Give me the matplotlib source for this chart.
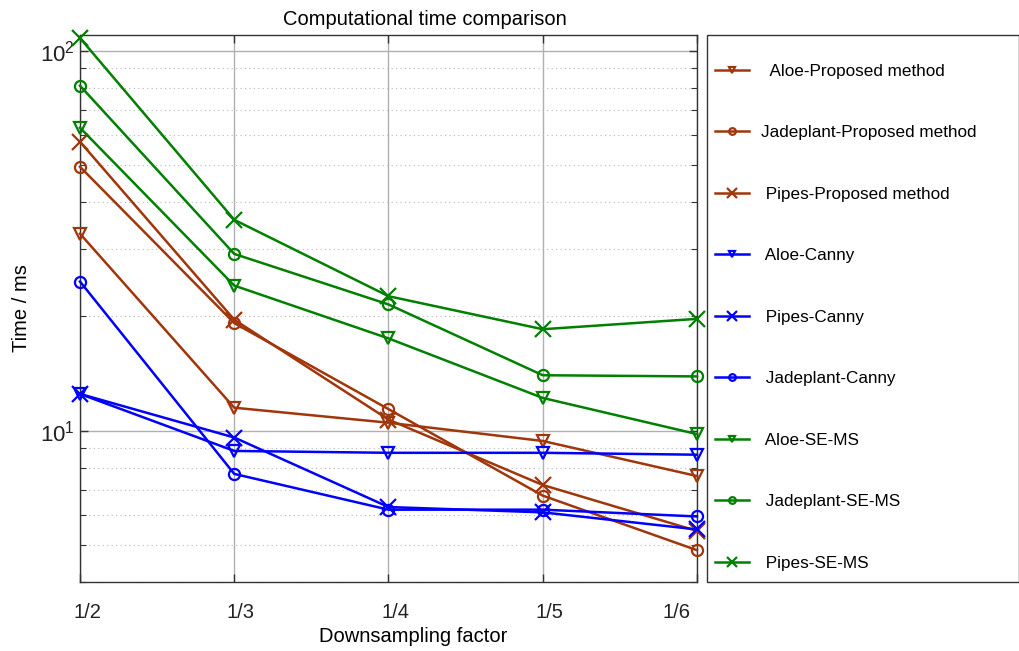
import numpy as np
import matplotlib
matplotlib.use("Agg")
import matplotlib.pyplot as plt
import matplotlib.transforms as mtransforms
from matplotlib.patches import Rectangle
from matplotlib.ticker import LogLocator, NullFormatter

plt.rcParams["font.family"] = ["Liberation Sans", "DejaVu Sans"]
plt.rcParams["mathtext.fontset"] = "custom"
plt.rcParams["mathtext.rm"] = "Liberation Sans"
plt.rcParams["mathtext.it"] = "Liberation Sans:italic"

factors = ["1/2", "1/3", "1/4", "1/5", "1/6"]

# time in ms
aloe_prop = [33.0, 11.5, 10.5, 9.4, 7.6]
jade_prop = [49.5, 19.2, 11.4, 6.75, 4.85]
pipes_prop = [57.6, 19.6, 10.7, 7.2, 5.45]
aloe_canny = [12.5, 8.85, 8.75, 8.75, 8.65]
pipes_canny = [12.5, 9.6, 6.3, 6.1, 5.5]
jade_canny = [24.7, 7.7, 6.2, 6.2, 5.95]
aloe_sems = [62.7, 24.1, 17.5, 12.2, 9.8]
jade_sems = [80.9, 29.2, 21.5, 14.0, 13.9]
pipes_sems = [108.0, 35.9, 22.6, 18.5, 19.7]

brown = "#A0360A"
blue = "#0000FF"
green = "#008000"

series = [
    ("  Aloe-Proposed method", aloe_prop, brown, "v"),
    ("Jadeplant-Proposed method", jade_prop, brown, "o"),
    (" Pipes-Proposed method", pipes_prop, brown, "x"),
    (" Aloe-Canny", aloe_canny, blue, "v"),
    (" Pipes-Canny", pipes_canny, blue, "x"),
    (" Jadeplant-Canny", jade_canny, blue, "o"),
    (" Aloe-SE-MS", aloe_sems, green, "v"),
    (" Jadeplant-SE-MS", jade_sems, green, "o"),
    (" Pipes-SE-MS", pipes_sems, green, "x"),
]

fig = plt.figure(figsize=(10.2, 6.51), dpi=100)
W, H = 1020, 651
ax = fig.add_axes([80 / W, (H - 582) / H, 617 / W, 547 / H])

x = np.arange(len(factors))
handles = []
for label, vals, col, mk in series:
    ms = 11 if mk == "x" else 8
    h, = ax.plot(x, vals, color=col, lw=1.8, marker=mk, ms=ms,
                 mfc="none", mec=col, mew=1.6, label=label, clip_on=False, zorder=3)
    handles.append(h)

ax.set_yscale("log")
ax.set_ylim(4, 110)
ax.set_xlim(0, 4)
ax.set_xticks(x)
ax.set_xticklabels(factors)
ax.yaxis.set_major_locator(LogLocator(base=10))
ax.yaxis.set_minor_locator(LogLocator(base=10, subs=np.arange(2, 10)))
ax.yaxis.set_minor_formatter(NullFormatter())

ax.grid(True, which="major", color="#b0b0b0", lw=1.0, ls="-")
ax.grid(True, which="minor", axis="y", color="#b8b8b8", lw=0.8, ls=(0, (1, 3)))
ax.set_axisbelow(True)

ax.tick_params(which="both", direction="in", top=True, right=True, colors="#333333")
ax.tick_params(which="major", length=6, width=1.0)
ax.tick_params(which="minor", length=4, width=0.8)
ax.tick_params(axis="x", labelsize=14.5, pad=15, labelcolor="#222222")
ax.tick_params(axis="y", labelsize=16, pad=4, labelcolor="#222222")
for s in ax.spines.values():
    s.set_color("#333333")
    s.set_linewidth(1.0)

# x tick labels sit a little off their ticks in the original
shifts = [7, 6, 7, 7, -20]
for lab, dx in zip(ax.get_xticklabels(), shifts):
    lab.set_transform(lab.get_transform() +
                      mtransforms.ScaledTranslation(dx / 100, 0, fig.dpi_scale_trans))

ax.set_title("Computational time comparison", fontsize=14.5, pad=7,
             x=(425 - 80) / 617)
ax.set_xlabel("Downsampling factor", fontsize=14.5)
ax.xaxis.set_label_coords((413 - 80) / 617, -(45 / 547))
ax.set_ylabel("Time / ms", fontsize=14.5, labelpad=6)

# legend box outside the axes
fig.patches.append(Rectangle((707 / W, 1 - 582 / H), 312 / W, 547 / H,
                             transform=fig.transFigure, fill=False,
                             ec="#333333", lw=1.0))
leg = fig.legend(handles=handles, loc="upper left",
                 bbox_to_anchor=(715 / W, 1 - 64 / H),
                 bbox_transform=fig.transFigure,
                 borderaxespad=0, borderpad=0, fontsize=12.3,
                 labelspacing=2.72, handlelength=2.0, handletextpad=0.7,
                 markerscale=0.6, frameon=False)

fig.savefig("out.png", dpi=100)
